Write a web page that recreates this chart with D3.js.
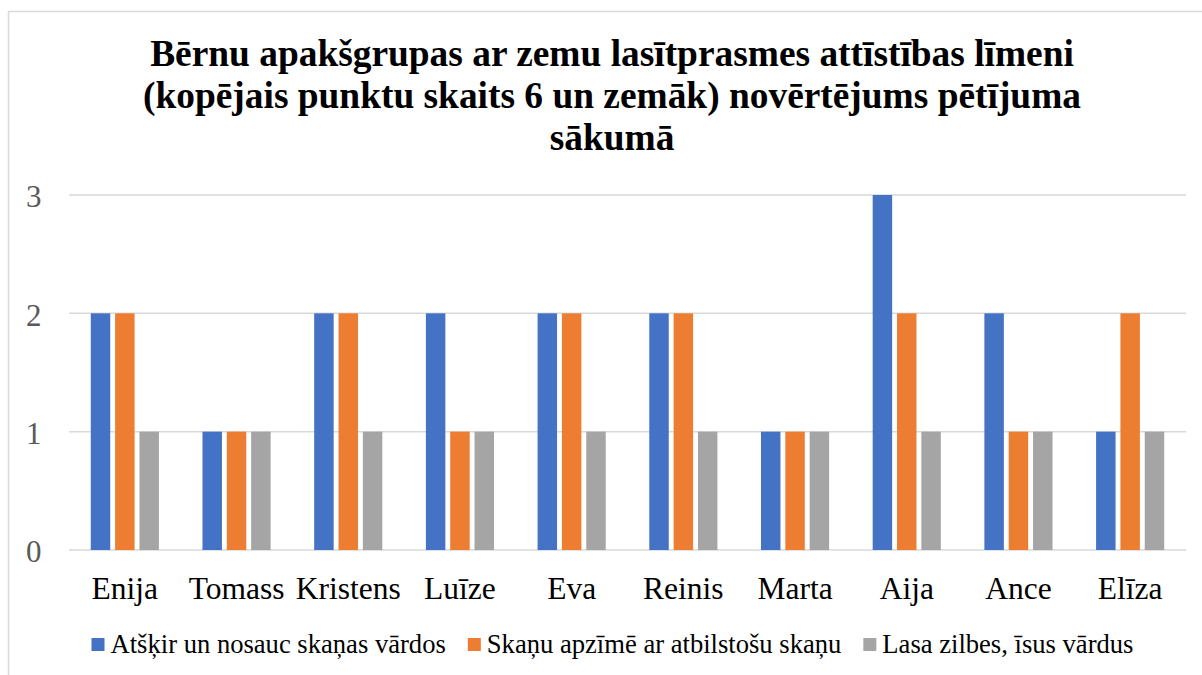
<!DOCTYPE html>
<html>
<head>
<meta charset="utf-8">
<script src="https://cdn.jsdelivr.net/npm/d3@7"></script>
<style>
  body { margin: 0; background: #fff; }
  svg { display: block; }
</style>
</head>
<body>
<svg id="chart"></svg>
<script>
const titleLines = [
    "Bērnu apakšgrupas ar zemu lasītprasmes attīstības līmeni",
    "(kopējais punktu skaits 6 un zemāk) novērtējums pētījuma",
    "sākumā"
];
const children = ["Enija", "Tomass", "Kristens", "Luīze", "Eva", "Reinis", "Marta", "Aija", "Ance", "Elīza"];
const seriesNames = ["Atšķir un nosauc skaņas vārdos", "Skaņu apzīmē ar atbilstošu skaņu", "Lasa zilbes, īsus vārdus"];
const distinguishSounds = [2, 1, 2, 2, 2, 2, 1, 3, 2, 1];
const markSounds = [2, 1, 2, 1, 2, 2, 1, 2, 1, 2];
const readSyllables = [1, 1, 1, 1, 1, 1, 1, 1, 1, 1];
const yTicks = [0, 1, 2, 3];
const colors = ["#4472C4", "#ED7D31", "#A5A5A5"];

const FONT = "Liberation Serif";
const W = 1202, H = 675;
const svg = d3.select("#chart").attr("width", W).attr("height", H);

// chart frame
svg.append("rect")
    .attr("x", 8.5).attr("y", 11.5)
    .attr("width", 1210).attr("height", 700)
    .attr("fill", "#fff")
    .attr("stroke", "#d9d9d9")
    .attr("stroke-width", 1.5);

const margin = { left: 69, right: 16, top: 195, bottom: 125 };
const plotW = W - margin.left - margin.right;
const plotH = H - margin.top - margin.bottom;

const table = children.map((name, i) => ({
    name,
    values: [distinguishSounds[i], markSounds[i], readSyllables[i]]
}));

const x0 = d3.scaleBand().domain(children).range([0, plotW]).paddingInner(0.39).paddingOuter(0.195);
const x1 = d3.scaleBand().domain([0, 1, 2]).range([0, x0.bandwidth()]).paddingInner(0.2);
const y = d3.scaleLinear().domain([0, 3]).range([plotH, 0]);

const g = svg.append("g").attr("transform", `translate(${margin.left},${margin.top})`);

// gridlines
g.append("g")
    .selectAll("line")
    .data(yTicks)
    .join("line")
    .attr("x1", 0).attr("x2", plotW)
    .attr("y1", d => y(d)).attr("y2", d => y(d))
    .attr("stroke", "#d9d9d9")
    .attr("stroke-width", 1.5);

// y axis labels
const yAxis = g.append("g")
    .call(d3.axisLeft(y).tickValues(yTicks).tickSize(0).tickPadding(27.5).tickFormat(d3.format("d")));
yAxis.select(".domain").remove();
yAxis.selectAll("text")
    .style("font-family", FONT)
    .attr("font-size", 31)
    .attr("dy", "0.38em")
    .attr("fill", "#595959");

// bars
const groups = g.selectAll(".group")
    .data(table)
    .join("g")
    .attr("class", "group")
    .attr("transform", d => `translate(${x0(d.name)},0)`);

groups.selectAll("rect")
    .data(d => d.values.map((v, k) => ({ k, v })))
    .join("rect")
    .attr("x", d => x1(d.k))
    .attr("y", d => y(d.v))
    .attr("width", x1.bandwidth())
    .attr("height", d => y(0) - y(d.v))
    .attr("fill", d => colors[d.k]);

// x axis labels
const xAxis = g.append("g")
    .attr("transform", `translate(0,${plotH})`)
    .call(d3.axisBottom(x0).tickSize(0).tickPadding(27));
xAxis.select(".domain").remove();
xAxis.selectAll("text")
    .style("font-family", FONT)
    .attr("font-size", 31.5)
    .attr("fill", "#000");

// title
svg.append("g")
    .selectAll("text")
    .data(titleLines)
    .join("text")
    .attr("x", 612)
    .attr("y", (d, i) => 66 + i * 42)
    .attr("text-anchor", "middle")
    .style("font-family", FONT)
    .attr("font-weight", "bold")
    .attr("font-size", 37.4)
    .attr("fill", "#000")
    .text(d => d);

// legend
const legend = svg.append("g").attr("transform", "translate(0,653)");
let lx = 91.5;
seriesNames.forEach((name, k) => {
    const item = legend.append("g").attr("transform", `translate(${lx},0)`);
    item.append("rect")
        .attr("x", 0).attr("y", -15)
        .attr("width", 13).attr("height", 13)
        .attr("fill", colors[k]);
    const t = item.append("text")
        .attr("x", 19)
        .style("font-family", FONT)
        .attr("font-size", 26.6)
        .attr("fill", "#000")
        .text(name);
    lx += 19 + t.node().getComputedTextLength() + 22;
});
</script>
</body>
</html>
